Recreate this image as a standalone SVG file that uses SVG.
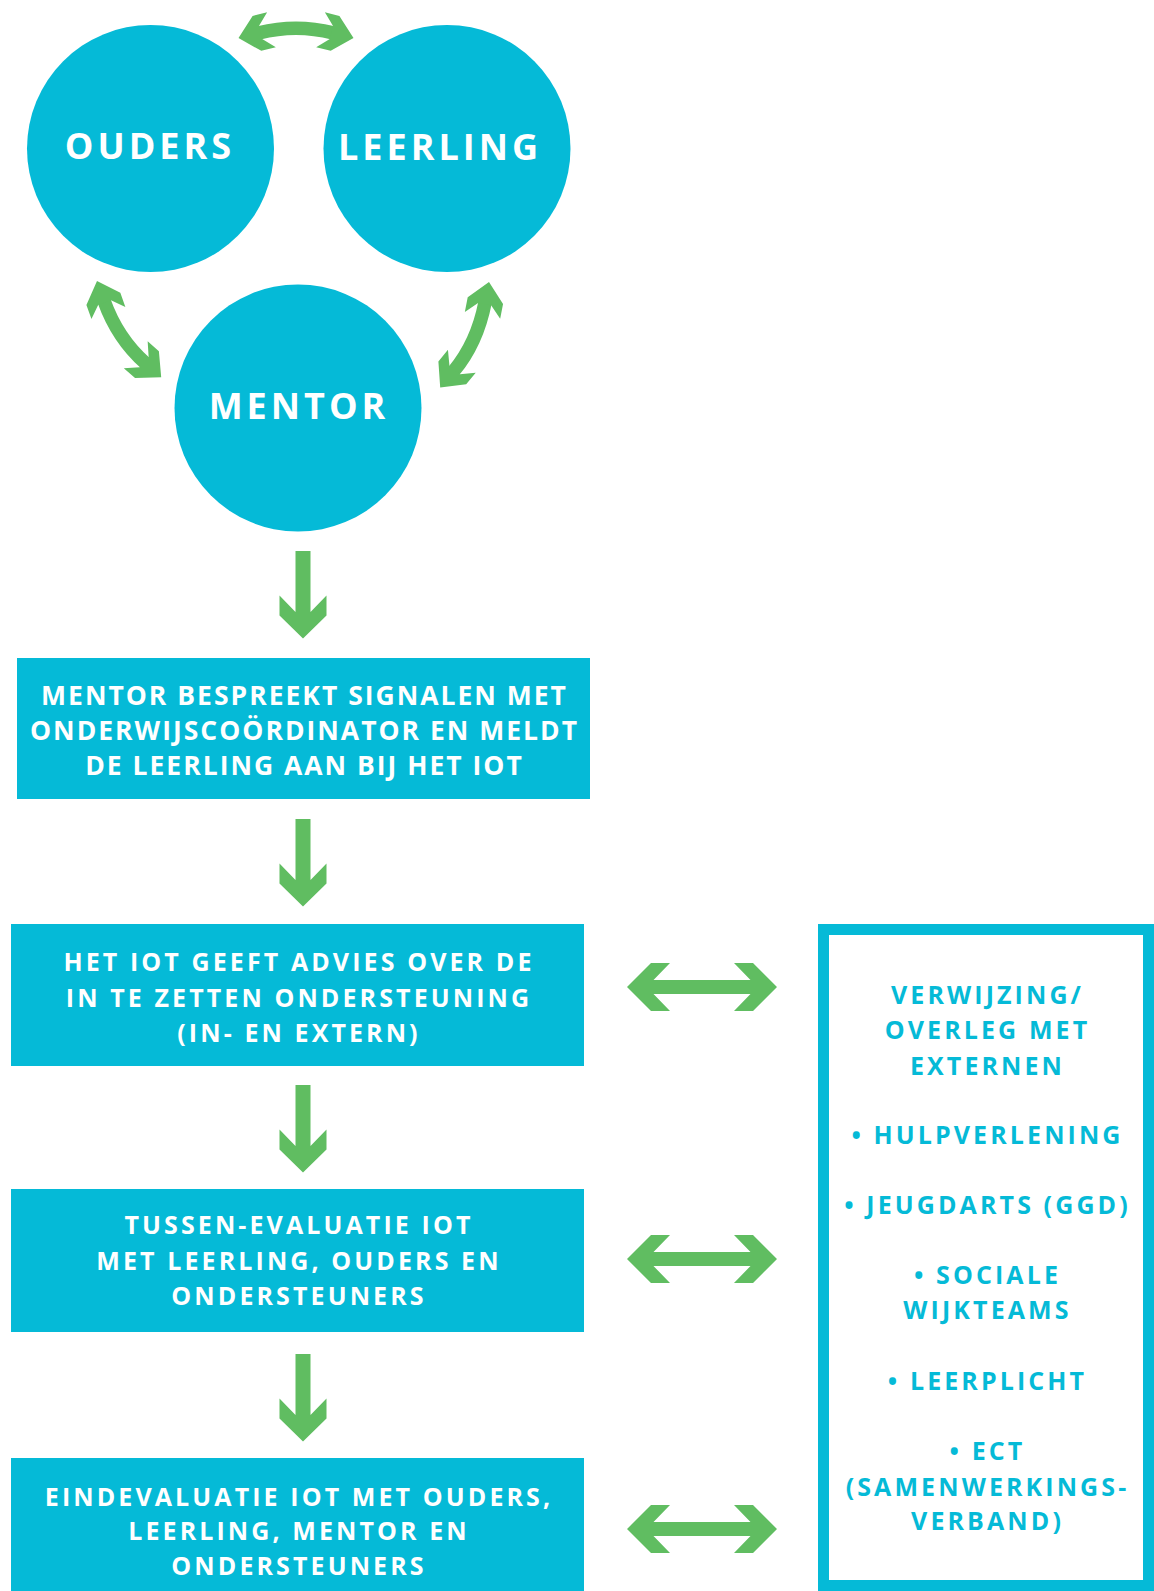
<svg xmlns="http://www.w3.org/2000/svg" width="1154" height="1591" viewBox="0 0 1154 1591">
  <style>
    .fill { fill: #05bad7; }
    .arrow { fill: #60bd61; }
    .shaft { fill: none; stroke: #60bd61; stroke-width: 13.5; }
    .ctext { font-family: "Open Sans", "Liberation Sans", sans-serif; font-weight: 700; font-size: 36px; letter-spacing: 4px; fill: #ffffff; text-anchor: middle; }
    .b1text { font-family: "Open Sans", "Liberation Sans", sans-serif; font-weight: 700; font-size: 26.5px; letter-spacing: 2px; fill: #ffffff; text-anchor: middle; }
    .btext { font-family: "Open Sans", "Liberation Sans", sans-serif; font-weight: 700; font-size: 25px; letter-spacing: 3.1px; fill: #ffffff; text-anchor: middle; }
    .rtext { font-family: "Open Sans", "Liberation Sans", sans-serif; font-weight: 700; font-size: 25px; letter-spacing: 3.1px; fill: #05bad7; text-anchor: middle; }
  </style>
  <defs>
    <path id="head" d="M0,0 L19,-18 H34 L22.75,-6.75 V6.75 L34,18 H19 Z"/>
    <path id="down" d="M-7.5,0 H7.5 V61 L23.5,44.5 V64.5 L0,87.5 L-23.5,64.5 V44.5 L-7.5,61 Z"/>
    <path id="hboth" d="M-75,0 L-51,-24 H-32 L-48.5,-7 H48.5 L32,-24 H51 L75,0 L51,24 H32 L48.5,7 H-48.5 L-32,24 H-51 Z"/>
  </defs>
  <rect width="1154" height="1591" fill="#ffffff"/>

  <g id="ouders">
    <circle class="fill" cx="150.5" cy="148.5" r="123.5"/>
    <text class="ctext" x="150" y="159">OUDERS</text>
  </g>
  <g id="leerling">
    <circle class="fill" cx="447" cy="148.5" r="123.5"/>
    <text class="ctext" x="440" y="160">LEERLING</text>
  </g>
  <g id="mentor">
    <circle class="fill" cx="298" cy="408" r="123.5"/>
    <text class="ctext" x="299" y="419">MENTOR</text>
  </g>

  <g id="stap1">
    <rect class="fill" x="17" y="658" width="573" height="141"/>
    <text class="b1text" x="304.5" y="705">MENTOR BESPREEKT SIGNALEN MET</text>
    <text class="b1text" x="304.5" y="740">ONDERWIJSCOÖRDINATOR EN MELDT</text>
    <text class="b1text" x="304.5" y="775">DE LEERLING AAN BIJ HET IOT</text>
  </g>
  <g id="stap2">
    <rect class="fill" x="11" y="924" width="573" height="142"/>
    <text class="btext" x="299" y="971">HET IOT GEEFT ADVIES OVER DE</text>
    <text class="btext" x="299" y="1006.5">IN TE ZETTEN ONDERSTEUNING</text>
    <text class="btext" x="299" y="1042">(IN- EN EXTERN)</text>
  </g>
  <g id="stap3">
    <rect class="fill" x="11" y="1189" width="573" height="143"/>
    <text class="btext" x="299" y="1234">TUSSEN-EVALUATIE IOT</text>
    <text class="btext" x="299" y="1269.5">MET LEERLING, OUDERS EN</text>
    <text class="btext" x="299" y="1305">ONDERSTEUNERS</text>
  </g>
  <g id="stap4">
    <rect class="fill" x="11" y="1458" width="573" height="133"/>
    <text class="btext" x="299" y="1506">EINDEVALUATIE IOT MET OUDERS,</text>
    <text class="btext" x="299" y="1540">LEERLING, MENTOR EN</text>
    <text class="btext" x="299" y="1575">ONDERSTEUNERS</text>
  </g>
  <g id="externen">
    <rect x="823.5" y="929.5" width="325" height="656" fill="#ffffff" stroke="#05bad7" stroke-width="11"/>
    <text class="rtext" x="987.5" y="1004">VERWIJZING/</text>
    <text class="rtext" x="987.5" y="1039">OVERLEG MET</text>
    <text class="rtext" x="987.5" y="1074.5">EXTERNEN</text>
    <text class="rtext" x="987.5" y="1144">• HULPVERLENING</text>
    <text class="rtext" x="987.5" y="1214">• JEUGDARTS (GGD)</text>
    <text class="rtext" x="987.5" y="1284">• SOCIALE</text>
    <text class="rtext" x="987.5" y="1319">WIJKTEAMS</text>
    <text class="rtext" x="987.5" y="1390">• LEERPLICHT</text>
    <text class="rtext" x="987.5" y="1460">• ECT</text>
    <text class="rtext" x="987.5" y="1495.5">(SAMENWERKINGS-</text>
    <text class="rtext" x="987.5" y="1530">VERBAND)</text>
  </g>

  <g id="connectors">
    <!-- ouders <-> leerling -->
    <path class="shaft" d="M258.9,32.9 Q296,23.4 333.1,32.9"/>
    <use href="#head" class="arrow" transform="translate(238.5,38) rotate(-14)"/>
    <use href="#head" class="arrow" transform="translate(353.5,38) rotate(194)"/>
    <!-- ouders <-> mentor -->
    <path class="shaft" d="M104,300.8 Q117.4,338.4 145.5,363.3"/>
    <use href="#head" class="arrow" transform="translate(97,281) rotate(70.4)"/>
    <use href="#head" class="arrow" transform="translate(161.2,377.2) rotate(221.5)"/>
    <!-- leerling <-> mentor -->
    <path class="shaft" d="M485,302.6 Q477.2,342.8 453.6,371.3"/>
    <use href="#head" class="arrow" transform="translate(489,282) rotate(101)"/>
    <use href="#head" class="arrow" transform="translate(440.2,387.5) rotate(-50.5)"/>
    <!-- down arrows -->
    <use href="#down" class="arrow" transform="translate(303,551)"/>
    <use href="#down" class="arrow" transform="translate(303,819)"/>
    <use href="#down" class="arrow" transform="translate(303,1085)"/>
    <use href="#down" class="arrow" transform="translate(303,1354)"/>
    <!-- horizontal double arrows -->
    <use href="#hboth" class="arrow" transform="translate(702,987)"/>
    <use href="#hboth" class="arrow" transform="translate(702,1259)"/>
    <use href="#hboth" class="arrow" transform="translate(702,1529)"/>
  </g>
</svg>
